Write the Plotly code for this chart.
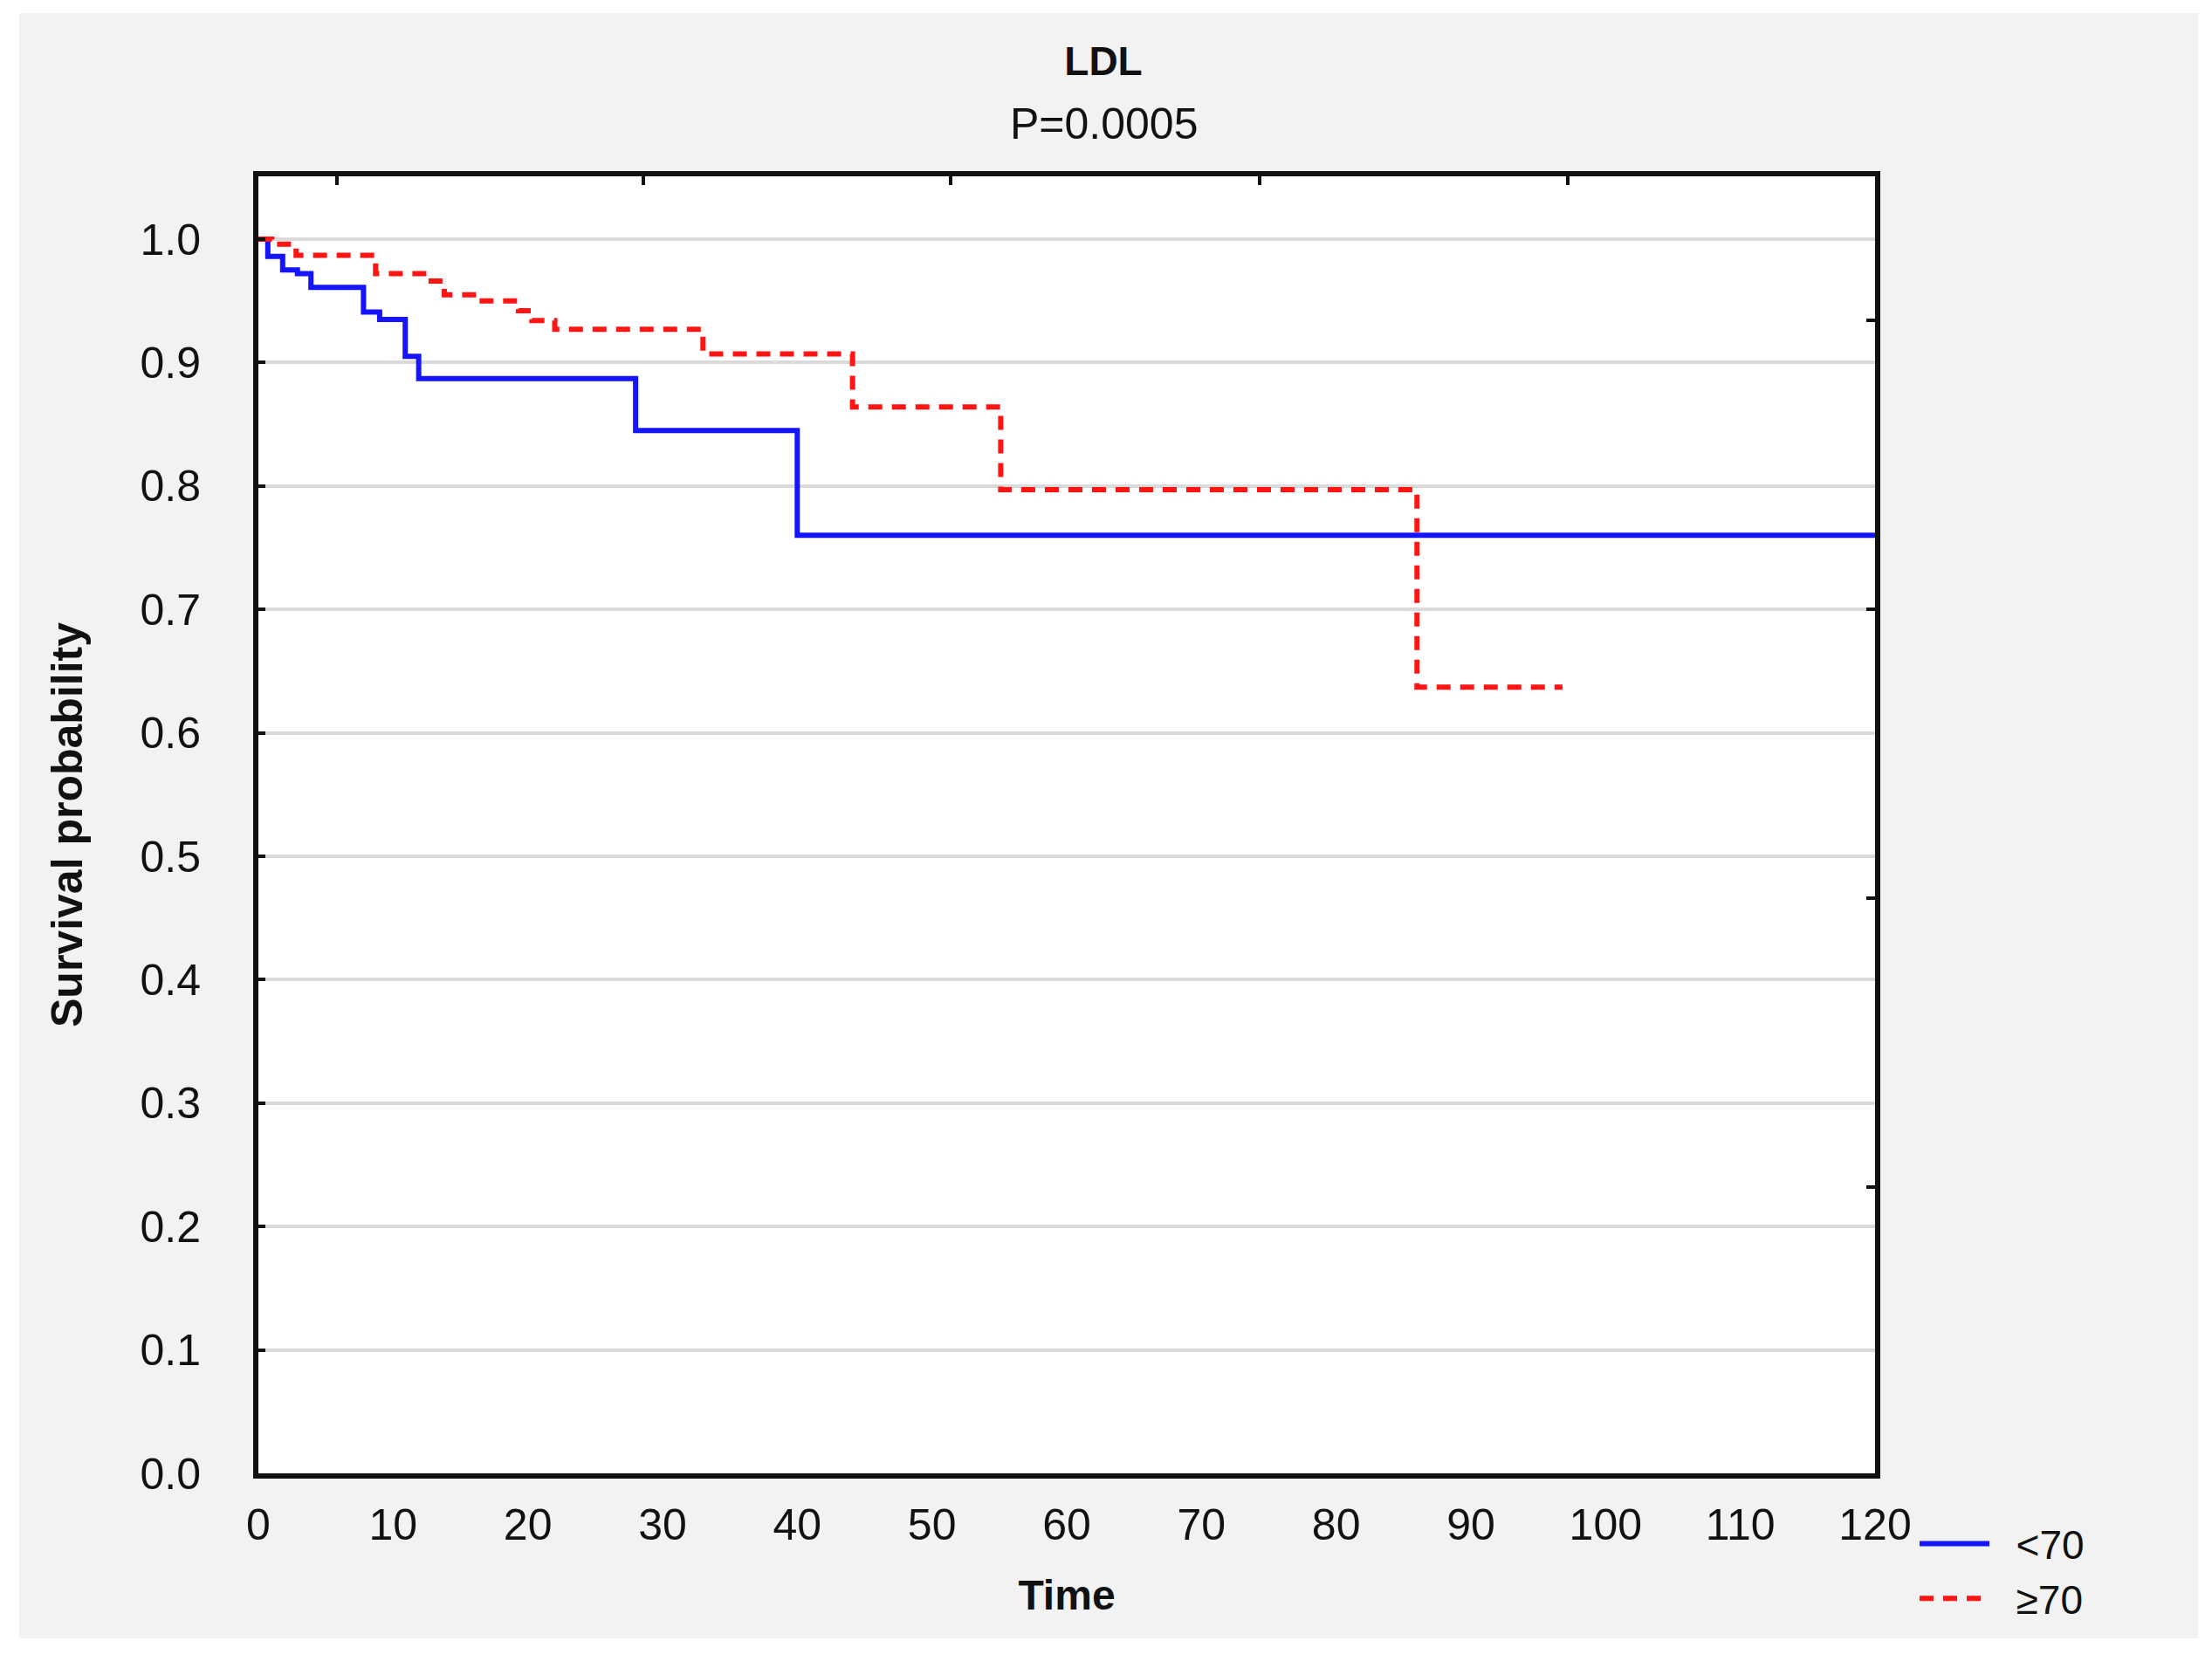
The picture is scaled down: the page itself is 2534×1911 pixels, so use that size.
import plotly.graph_objects as go

# ---------------- data ----------------
time_lt70 = [0, 0.7, 1.8, 2.9, 3.9, 7.8, 9.0, 10.9, 11.9, 28.0, 40.0, 120]
surv_lt70 = [1.0, 0.986, 0.975, 0.972, 0.961, 0.941, 0.935, 0.905, 0.887, 0.845, 0.760, 0.760]

time_ge70 = [0, 1.0, 2.8, 8.7, 12.5, 13.8, 16.3, 19.3, 20.3, 22.0, 33.0, 44.1, 55.1, 86.0, 96.8]
surv_ge70 = [1.0, 0.996, 0.987, 0.972, 0.966, 0.955, 0.950, 0.942, 0.934, 0.927, 0.907, 0.864, 0.797, 0.637, 0.637]

series_names = ["<70", "\u226570"]
x_ticks = list(range(0, 121, 10))
y_ticks = [round(i * 0.1, 1) for i in range(11)]
y_tick_labels = [f"{v:.1f}" for v in y_ticks]
top_minor_ticks = [5.8, 28.6, 51.4, 74.3, 97.2]
right_minor_ticks = [0.934, 0.700, 0.466, 0.232]

title_main = "LDL"
title_sub = "P=0.0005"
x_title = "Time"
y_title = "Survival probability"

# ---------------- layout geometry ----------------
# the page body has an 8px margin, so the figure is placed at (8, 8)
OFF = 8
W, H = 2534 - 2 * OFF, 1911 - 2 * OFF
ML, MT = 296 - OFF, 202 - OFF
MR = W - (2148 - OFF)
MB = H - (1688 - OFF)
PW = W - ML - MR
PH = H - MT - MB
Y_TOP = (1688 - 202) / 1414.0


def pxx(px):
    """page x pixel -> paper x"""
    return (px - OFF - ML) / PW


def pxy(py):
    """page y pixel -> paper y"""
    return (H - MB - (py - OFF)) / PH


FONT = "Liberation Sans, Arial, sans-serif"
BLACK = "#111111"
NB = "\u00a0\u00a0"

fig = go.Figure()

fig.add_trace(go.Scatter(
    x=time_lt70, y=surv_lt70, name=NB + series_names[0], mode="lines",
    line=dict(color="#1414ff", width=6, shape="hv"),
))
fig.add_trace(go.Scatter(
    x=time_ge70, y=surv_ge70, name=NB + series_names[1], mode="lines",
    line=dict(color="#ff1414", width=6, shape="hv", dash="16px,11px"),
))
# helper traces so the decorative secondary axes (top / right ticks) are drawn
fig.add_trace(go.Scatter(x=[], y=[], xaxis="x2", yaxis="y", showlegend=False, hoverinfo="skip"))
fig.add_trace(go.Scatter(x=[], y=[], xaxis="x", yaxis="y2", showlegend=False, hoverinfo="skip"))

fig.update_layout(
    width=W, height=H,
    margin=dict(l=ML, r=MR, t=MT, b=MB),
    paper_bgcolor="#f2f2f2",
    plot_bgcolor="white",
    font=dict(family=FONT, size=50, color=BLACK),
    title=dict(
        text=f"<b>{title_main}</b>",
        x=(1264 - OFF) / W, xref="container", xanchor="center",
        y=1 - (70 - OFF) / H, yref="container", yanchor="middle",
        font=dict(family=FONT, size=46, color=BLACK),
    ),
    xaxis=dict(
        range=[0, 120], tickvals=x_ticks, showgrid=False, zeroline=False,
        showline=True, linecolor=BLACK, linewidth=6, mirror=True,
        ticks="", ticklabelstandoff=10,
        tickfont=dict(family=FONT, size=50, color=BLACK),
        title=dict(text=f"<b>{x_title}</b>", standoff=38,
                   font=dict(family=FONT, size=48, color=BLACK)),
    ),
    yaxis=dict(
        range=[0, Y_TOP], tickvals=y_ticks, ticktext=y_tick_labels,
        showgrid=True, gridcolor="#dadada", gridwidth=4, zeroline=False,
        showline=True, linecolor=BLACK, linewidth=6, mirror=True,
        ticks="inside", ticklen=8, tickwidth=4, tickcolor=BLACK,
        ticklabelstandoff=50,
        tickfont=dict(family=FONT, size=50, color=BLACK),
        title=dict(text=f"<b>{y_title}</b>", standoff=52,
                   font=dict(family=FONT, size=50, color=BLACK)),
    ),
    xaxis2=dict(
        overlaying="x", side="top", anchor="y", range=[0, 120],
        tickvals=top_minor_ticks, showticklabels=False, ticks="inside",
        ticklen=10, tickwidth=4, tickcolor=BLACK,
        showgrid=False, zeroline=False, showline=False,
    ),
    yaxis2=dict(
        overlaying="y", side="right", anchor="x", range=[0, Y_TOP],
        tickvals=right_minor_ticks, showticklabels=False, ticks="inside",
        ticklen=10, tickwidth=4, tickcolor=BLACK,
        showgrid=False, zeroline=False, showline=False,
    ),
    legend=dict(
        x=pxx(2194), xanchor="left", y=pxy(1732), yanchor="top",
        bgcolor="rgba(0,0,0,0)", borderwidth=0,
        font=dict(family=FONT, size=46, color=BLACK),
        itemwidth=80, tracegroupgap=0,
    ),
    showlegend=True,
)

fig.add_annotation(
    text=title_sub, xref="paper", yref="paper",
    x=pxx(1264), y=pxy(142), xanchor="center", yanchor="middle",
    showarrow=False, font=dict(family=FONT, size=50, color=BLACK),
)

# white frame around the grey panel (page coords: grey spans x 22..2518, y 15..1877)
strips = [
    (0, 0, 2534, 15),        # top
    (0, 1877, 2534, 1911),   # bottom
    (0, 0, 22, 1911),        # left
    (2518, 0, 2534, 1911),   # right
]
for x0, y0, x1, y1 in strips:
    fig.add_shape(type="rect", xref="paper", yref="paper",
                  x0=pxx(x0), x1=pxx(x1), y0=pxy(y1), y1=pxy(y0),
                  fillcolor="white", line=dict(width=0), layer="below")

fig.write_html("out.html")
